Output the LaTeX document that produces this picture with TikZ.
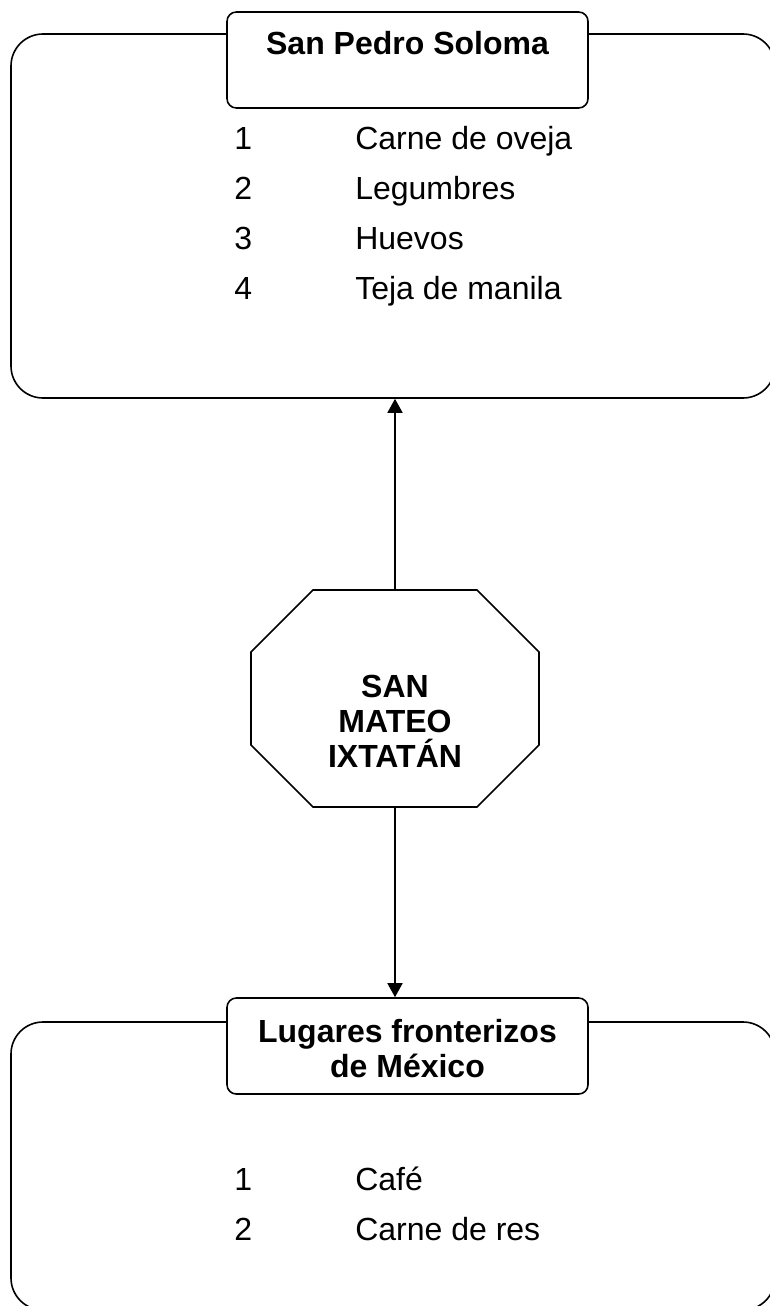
\documentclass[tikz,border=0pt]{standalone}
\usepackage{fontspec}
\setmainfont{Liberation Sans}
\usepackage{tikz}
\usetikzlibrary{arrows.meta, positioning}

\begin{document}
\begin{tikzpicture}[x=0.75pt, y=-0.75pt,
					bigbox/.style={rectangle,
					rounded corners=24pt,
					line width=1.2pt,
					minimum width=573pt,
					draw=black},
					titlebox/.style={rectangle,
					rounded corners=7pt,
					line width=1.2pt,
					minimum width=270.75pt,
					minimum height=72pt,
					align=center,
					font=\fontsize{24}{26.25}\selectfont\bfseries,
					draw=black,
					fill=white},
					octnode/.style={rectangle,
					inner sep=0pt,
					outer sep=0pt,
					minimum width=216pt,
					minimum height=162.75pt,
					text height=102.75pt,
					text depth=0pt,
					align=center,
					font=\fontsize{24}{26.25}\selectfont\bfseries},
					itemtext/.style={anchor=base west,
					inner sep=0pt,
					font=\fontsize{24}{26.25}\selectfont}
					]

% page size of the scanned figure
\useasboundingbox (0,0) rectangle (770,1306);
\clip (0,0) rectangle (770,1306);

% big boxes (cut at the page border)
\node[bigbox, minimum height=273pt] (solomabox) at (393,216) {};
\node[bigbox, minimum height=216pt] (mexicobox) at (393,1166) {};

% title boxes
\node[titlebox, text height=18pt, text depth=25.5pt] (soloma) at (407.5,60) {San Pedro Soloma};
\node[titlebox, text height=46.5pt, text depth=0pt] (mexico) at (407.5,1046) {Lugares fronterizos\\de México};

% center node
\node[octnode] (ixtatan) at (395,698.5) {SAN\\MATEO\\IXTATÁN};
\draw[line width=1.2pt] ([xshift=46.5pt]ixtatan.north west) -- ([xshift=-46.5pt]ixtatan.north east)
	-- ([yshift=-46.5pt]ixtatan.north east) -- ([yshift=46.5pt]ixtatan.south east)
	-- ([xshift=-46.5pt]ixtatan.south east) -- ([xshift=46.5pt]ixtatan.south west)
	-- ([yshift=46.5pt]ixtatan.south west) -- ([yshift=-46.5pt]ixtatan.north west) -- cycle;

% products to San Pedro Soloma
\node[itemtext] (sol1) at (234,149) {1};
\node[itemtext] (sol1txt) at (355,149) {Carne de oveja};
\node[itemtext] (sol2) at (234,199) {2};
\node[itemtext] (sol2txt) at (355,199) {Legumbres};
\node[itemtext] (sol3) at (234,249) {3};
\node[itemtext] (sol3txt) at (355,249) {Huevos};
\node[itemtext] (sol4) at (234,299) {4};
\node[itemtext] (sol4txt) at (355,299) {Teja de manila};

% products to Mexico
\node[itemtext] (mex1) at (234,1190) {1};
\node[itemtext] (mex1txt) at (355,1190) {Café};
\node[itemtext] (mex2) at (234,1240) {2};
\node[itemtext] (mex2txt) at (355,1240) {Carne de res};

% arrows
\path[-{Triangle[length=10.5pt, width=11.25pt]}, black, line width=1.2pt] (ixtatan.north) edge (ixtatan.north |- solomabox.south);
\path[-{Triangle[length=10.5pt, width=11.25pt]}, black, line width=1.2pt] (ixtatan.south) edge (ixtatan.south |- mexico.north);

\end{tikzpicture}
\end{document}
